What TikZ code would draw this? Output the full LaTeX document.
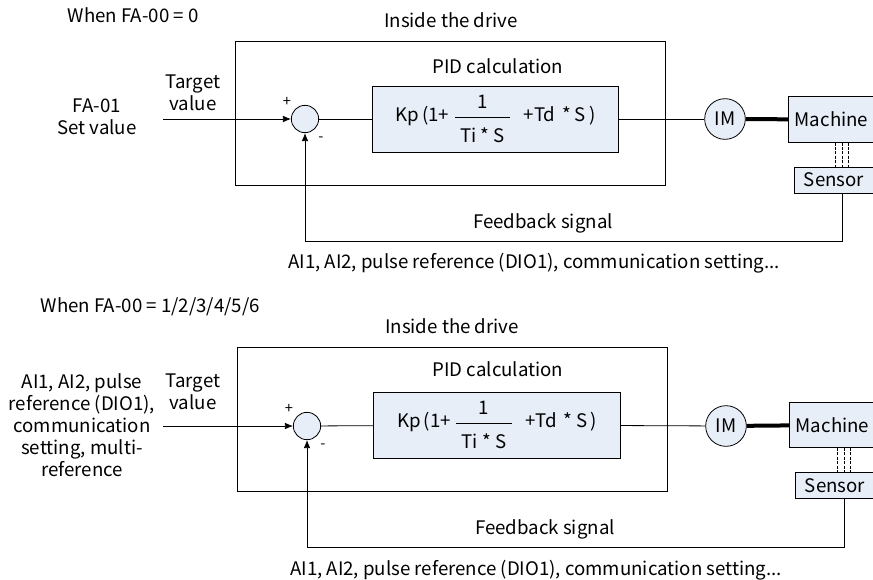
\documentclass[tikz,border=0pt]{standalone}
\usepackage{fontspec}
\usepackage{amsmath}
\setmainfont{Noto Sans CJK SC}
\usetikzlibrary{arrows.meta}

\definecolor{boxfill}{HTML}{E8EEF8}

\newcommand{\pidformula}{Kp\,(1+\hspace{3pt}$\dfrac{\text{1}}{\rule{0pt}{17pt}\text{\hspace{4pt}Ti * S\hspace{4pt}}}$\hspace{9pt}+Td\hspace{5pt}* S\,)}

\begin{document}
\begin{tikzpicture}[x=0.75pt, y=-0.75pt,
    block/.style={draw, rectangle, fill=boxfill, line width=0.6pt, inner sep=0pt, font=\fontsize{14}{16.5}\selectfont},
    frame/.style={draw, rectangle, line width=0.6pt, inner sep=0pt},
    sum/.style={draw, circle, fill=boxfill, line width=0.6pt, minimum size=20.5pt, inner sep=0pt},
    motor/.style={draw, circle, fill=boxfill, line width=0.6pt, minimum size=30.5pt, inner sep=0pt, font=\fontsize{14}{16.5}\selectfont},
    link/.style={line width=0.6pt},
    signal/.style={-{Latex[length=6pt,width=5pt]}, line width=0.6pt},
    shaft/.style={line width=3pt},
    probe/.style={line width=0.7pt, dash pattern=on 2.2pt off 1.1pt},
    label/.style={font=\fontsize{14}{16.5}\selectfont, align=center},
    sign/.style={font=\fontsize{11}{12}\selectfont},
]
\clip (0,0) rectangle (873,579);

% Upper diagram
\node[label, anchor=west] (condA) at (63,15) {When FA-00 = 0};
\node[frame, minimum width=322.5pt, minimum height=108pt] (driveA) at (450,113) {};
\node[label] (insideA) at (451,20) {Inside the drive};
\node[label] (pidtitleA) at (498,66) {PID calculation};
\node[block, minimum width=185pt, minimum height=49.5pt] (pidA) at (495.5,119) {\pidformula};
\node[sum] (sumA) at (305,119) {};
\node[motor] (imA) at (725,119) {IM};
\node[block, minimum width=64pt, minimum height=34pt] (machineA) at (831.5,119.5) {Machine};
\node[block, minimum width=60pt, minimum height=19.5pt] (sensorA) at (834,180) {Sensor};
\node[label] (srcA) at (97,117) {FA-01\\Set value};
\node[label] (targetA) at (193,93) {Target\\value};
\node[sign] (plusA) at (287,102) {+};
\node[sign] (minusA) at (321,139) {-};
\node[label] (fbtextA) at (543,223) {Feedback signal};
\node[label] (chanA) at (534,263) {AI1, AI2, pulse reference (DIO1), communication setting...};
\coordinate (inA) at (163,119);
\coordinate (fbA) at (842,241);

\draw[signal] (inA) -- (sumA);
\draw[link] (sumA) -- (pidA);
\draw[link] (pidA) -- (imA);
\draw[shaft] (imA) -- (machineA);
\foreach \dx in {835,842,848}
    \draw[probe] (machineA.south -| \dx,0) -- (sensorA.north -| \dx,0);
\draw[signal] (sensorA.south -| fbA) -- (fbA) -| (sumA.south);

% Lower diagram
\node[label, anchor=west] (condB) at (36,307) {When FA-00 = 1/2/3/4/5/6};
\node[frame, minimum width=322.5pt, minimum height=108pt] (driveB) at (452,419) {};
\node[label] (insideB) at (452,326) {Inside the drive};
\node[label] (pidtitleB) at (498,369) {PID calculation};
\node[block, minimum width=185pt, minimum height=49.5pt] (pidB) at (497,425) {\pidformula};
\node[sum] (sumB) at (307,426) {};
\node[motor] (imB) at (726,426) {IM};
\node[block, minimum width=64pt, minimum height=34pt] (machineB) at (832.5,425) {Machine};
\node[block, minimum width=60pt, minimum height=19.5pt] (sensorB) at (835,485.5) {Sensor};
\node[label] (srcB) at (82,425) {AI1, AI2, pulse\\reference (DIO1),\\communication\\setting, multi-\\reference};
\node[label] (targetB) at (193,392) {Target\\value};
\node[sign] (plusB) at (289,409) {+};
\node[sign] (minusB) at (323,446) {-};
\node[label] (fbtextB) at (545,529) {Feedback signal};
\node[label] (chanB) at (536,570) {AI1, AI2, pulse reference (DIO1), communication setting...};
\coordinate (inB) at (163,426);
\coordinate (fbB) at (844,547);

\draw[signal] (inB) -- (sumB);
\draw[link] (sumB) -- (pidB);
\draw[link] (pidB) -- (imB);
\draw[shaft] (imB) -- (machineB);
\foreach \dx in {837,844,850}
    \draw[probe] (machineB.south -| \dx,0) -- (sensorB.north -| \dx,0);
\draw[signal] (sensorB.south -| fbB) -- (fbB) -| (sumB.south);

\end{tikzpicture}
\end{document}
